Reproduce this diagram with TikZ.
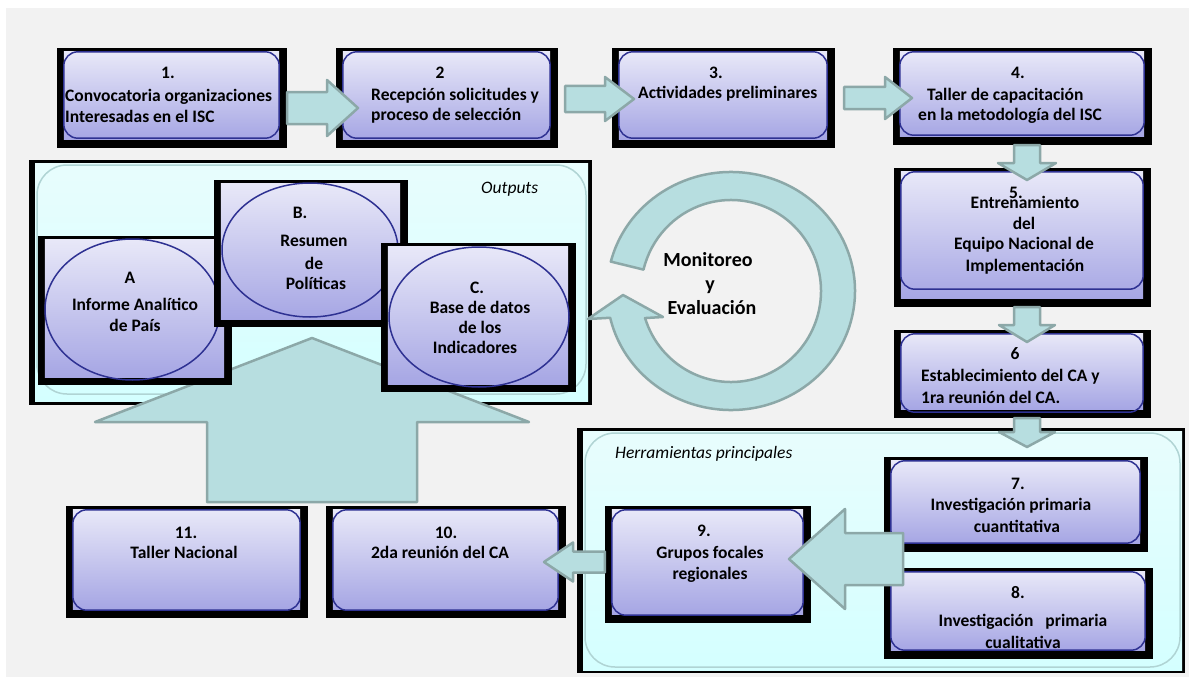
\documentclass[tikz,border=0pt]{standalone}
\usepackage{fontspec}
\setmainfont{Carlito}
\usetikzlibrary{calc,fit}
\definecolor{bgg}{HTML}{F2F2F2}
\definecolor{boxtop}{HTML}{E8E8F8}
\definecolor{boxbot}{HTML}{A6A6E4}
\definecolor{dkb}{HTML}{2E3192}
\definecolor{arrfill}{HTML}{B7DEE0}
\definecolor{arrline}{HTML}{8CA8A8}
\definecolor{conttop}{HTML}{E8FDFD}
\definecolor{contbot}{HTML}{D4FFFF}
\definecolor{contline}{HTML}{B0D4D4}
% rounded box inside a black frame: name, x0, y0, x1, y1, bottom inset of outline
\newcommand\pbox[6]{%
  \node[blackframe, fit={(#2,#3) (#4,#5)}] (#1) {};
  \shade[boxshade] ([shift={(7pt,-4pt)}]#1.north west) rectangle ([shift={(-8pt,9pt)}]#1.south east);
  \draw[boxline] ([shift={(7pt,-4pt)}]#1.north west) rectangle ([shift={(-8pt,#6pt)}]#1.south east);}
% frame with shaded rectangle only (for ellipse boxes)
\newcommand\ebox[5]{%
  \node[blackframe, fit={(#2,#3) (#4,#5)}] (#1) {};
  \shade[boxshade] ([shift={(7pt,-4pt)}]#1.north west) rectangle ([shift={(-8pt,8pt)}]#1.south east);}
% horizontal block arrow: from, tip, shaft half, head half, head length, dir (1 right, -1 left)
\newcommand\harr[6]{%
  \draw[barrow] let \p1=(#1), \p2=(#2) in
   ({\x1},{\y2+#3}) -- ({\x2-(#6)*#5},{\y2+#3}) -- ({\x2-(#6)*#5},{\y2+#4}) -- (\x2,\y2)
   -- ({\x2-(#6)*#5},{\y2-#4}) -- ({\x2-(#6)*#5},{\y2-#3}) -- ({\x1},{\y2-#3}) -- cycle;}
% vertical block arrow: from, tip, shaft half, head half, head length, dir (1 down, -1 up)
\newcommand\varr[6]{%
  \draw[barrow] let \p1=(#1), \p2=(#2) in
   ({\x2+#3},{\y1}) -- ({\x2+#3},{\y2+(#6)*#5}) -- ({\x2+#4},{\y2+(#6)*#5}) -- (\x2,\y2)
   -- ({\x2-#4},{\y2+(#6)*#5}) -- ({\x2-#3},{\y2+(#6)*#5}) -- ({\x2-#3},{\y1}) -- cycle;}
\begin{document}
\begin{tikzpicture}[x=1pt,y=-1pt,
  barrow/.style={fill=arrfill, draw=arrline, line width=2.5pt, line join=round},
  blackframe/.style={fill=black, draw=none, inner sep=0pt},
  boxshade/.style={top color=boxtop, bottom color=boxbot},
  boxline/.style={draw=dkb, line width=1.5pt, rounded corners=14pt},
  lbl/.style={font=\bfseries\fontsize{17.5}{21}\selectfont, inner sep=0pt, anchor=base},
  lblw/.style={lbl, anchor=base west},
  ital/.style={font=\itshape\fontsize{17.5}{21}\selectfont, inner sep=0pt, anchor=base west},
  big/.style={font=\bfseries\fontsize{20}{24}\selectfont, inner sep=0pt, anchor=base}]
\useasboundingbox (0,0) rectangle (1189,677);
\fill[white] (0,0) rectangle (1189,677);
\fill[bgg] (6,8) rectangle (1189,677);

% ---- top row
\pbox{b1}{57}{48}{287}{148}{10}
\node[lbl] (t1a) at (168,78) {1.};
\node[lblw] (t1b) at (65,101) {Convocatoria organizaciones};
\node[lblw] (t1c) at (65,122) {Interesadas en el ISC};

\pbox{b2}{336}{48}{558}{148}{10}
\node[lbl] (t2a) at (440,78) {2};
\node[lblw] (t2b) at (371,100) {Recepción solicitudes y};
\node[lblw] (t2c) at (371,121) {proceso de selección};

\pbox{b3}{612}{48}{835}{148}{10}
\node[lbl] (t3a) at (716,78) {3.};
\node[lblw] (t3b) at (638,99) {Actividades preliminares};

\pbox{b4}{893}{48}{1152}{145}{10}
\node[lbl] (t4a) at (1018,78) {4.};
\node[lblw] (t4b) at (927,100) {Taller de capacitación};
\node[lblw] (t4c) at (918,121) {en la metodología del ISC};

\coordinate (tip12) at (358,108);
\coordinate (tip23) at (634,99);
\coordinate (tip34) at (912,98);
\harr{b1.east}{tip12}{16}{28}{31}{1}
\harr{[xshift=7pt]b2.east}{tip23}{13}{22}{29}{1}
\harr{[xshift=9pt]b3.east}{tip34}{11}{21}{27}{1}

% ---- right column
\pbox{b5}{894}{168}{1151}{307}{18}
\node[lbl] (t5b) at (1025,208) {Entrenamiento};
\node[lbl] (t5a) at (1016,198) {5.};
\node[lbl] (t5c) at (1024,229) {del};
\node[lbl] (t5d) at (1024,249) {Equipo Nacional de};
\node[lbl] (t5e) at (1025,271) {Implementación};

\pbox{b6}{894}{330}{1151}{418}{6}
\node[lbl] (t6a) at (1015,359) {6};
\node[lblw] (t6b) at (921,381) {Establecimiento del CA y};
\node[lblw] (t6c) at (921,403) {1ra reunión del CA.};

\coordinate (tip45) at (1027,180);
\coordinate (tip56) at (1027,342);
\varr{b4.south}{tip45}{13}{29}{17}{1}
\varr{b5.south}{tip56}{13}{28}{17}{1}

% ---- outputs container
\node[blackframe, fit={(29,160) (592,405)}] (outc) {};
\shade[top color=conttop, bottom color=contbot] (35,163) rectangle (588,401);
\draw[contline, line width=1.5pt, rounded corners=30pt] (37,165) rectangle (586,394);
\node[ital] (tout) at (481,193) {Outputs};

\coordinate (supb) at (312,502);
\coordinate (tipup) at (312,338);
\varr{supb}{tipup}{105}{217}{84}{-1}

\ebox{bA}{38}{236}{232}{385}
\draw[dkb, line width=1.5pt] (132.5,309.5) ellipse [x radius=87.5, y radius=70.5];
\node[lbl] (tAa) at (130,283) {A};
\node[lbl] (tAb) at (135,310) {Informe Analítico};
\node[lbl] (tAc) at (135,331) {de País};

\ebox{bB}{214}{180}{408}{327}
\draw[dkb, line width=1.5pt] (310,250) ellipse [x radius=88, y radius=67];
\node[lbl] (tBa) at (300,218) {B.};
\node[lbl] (tBb) at (314,246) {Resumen};
\node[lbl] (tBc) at (314,269) {de};
\node[lbl] (tBd) at (316,289) {Políticas};

\ebox{bC}{381}{243}{576}{392}
\draw[dkb, line width=1.5pt] (479,317) ellipse [x radius=90, y radius=70];
\node[lbl] (tCa) at (477,293) {C.};
\node[lbl] (tCb) at (480,313) {Base de datos};
\node[lbl] (tCc) at (480,333) {de los};
\node[lbl] (tCd) at (475,353) {Indicadores};

% ---- herramientas container
\node[blackframe, fit={(577,428) (1185,673)}] (herc) {};
\shade[top color=conttop, bottom color=contbot] (583,431) rectangle (1182,670);
\draw[contline, line width=1.5pt, rounded corners=30pt] (585,433) rectangle (1180,667);
\node[ital] (ther) at (615,458) {Herramientas principales};

\coordinate (tip6h) at (1027,447);
\varr{b6.south}{tip6h}{13}{28}{15}{1}

\pbox{b7}{884}{457}{1148}{552}{9}
\node[lbl] (t7a) at (1018,489) {7.};
\node[lbl] (t7b) at (1011,510) {Investigación primaria};
\node[lbl] (t7c) at (1017,532) {cuantitativa};

\pbox{b8}{884}{568}{1153}{659}{9}
\node[lbl] (t8a) at (1018,598) {8.};
\node[lbl] (t8b) at (1023,626) {Investigación\ \ \ primaria};
\node[lbl] (t8c) at (1023,648) {cualitativa};

\pbox{b9}{605}{506}{811}{623}{8}
\node[lbl] (t9a) at (704,536) {9.};
\node[lbl] (t9b) at (710,558) {Grupos focales};
\node[lbl] (t9c) at (710,579) {regionales};

\coordinate (s78) at (903,559);
\coordinate (tip9) at (789,559);
\harr{s78}{tip9}{26}{50}{56}{-1}

\pbox{b10}{326}{506}{566}{618}{8}
\node[lbl] (t10a) at (446,538) {10.};
\node[lbl] (t10b) at (440,558) {2da reunión del CA};

\pbox{b11}{66}{506}{308}{618}{8}
\node[lbl] (t11a) at (186,538) {11.};
\node[lbl] (t11b) at (184,558) {Taller Nacional};

\coordinate (tip10) at (544,562);
\harr{b9.west}{tip10}{10.5}{19.5}{29}{-1}

% ---- monitoring cycle
\coordinate (cc) at (731,291);
\draw[barrow] ($(cc)+(-165.7:124 and 119)$)
  arc[start angle=-165.7, end angle=167, x radius=124, y radius=119]
  -- (588,319) -- (623,295) -- (663,317)
  -- ($(cc)+(162.7:90 and 91)$)
  arc[start angle=162.7, end angle=-166.4, x radius=90, y radius=91] -- cycle;
\node[big] (tma) at (708,266) {Monitoreo};
\node[big] (tmb) at (710,290) {y};
\node[big] (tmc) at (712,314) {Evaluación};
\end{tikzpicture}
\end{document}
